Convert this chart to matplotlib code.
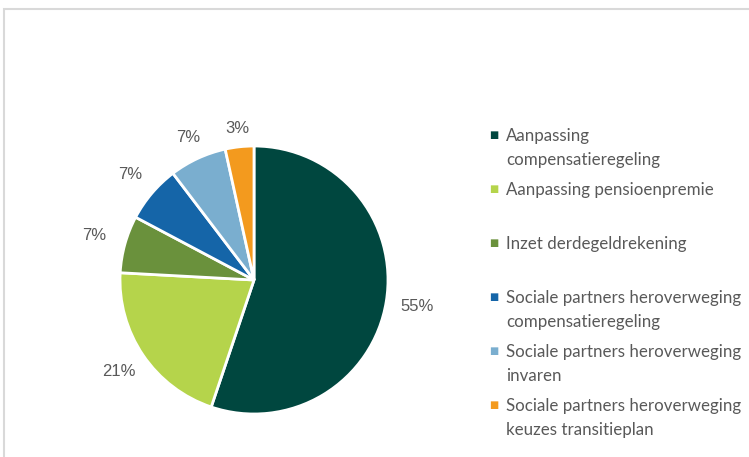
import numpy as np
import matplotlib
matplotlib.use("Agg")
import matplotlib.pyplot as plt
from matplotlib.patches import Rectangle

# antwoorden (aantal), volgorde met de klok mee vanaf 12 uur
categories = [
    "Aanpassing\ncompensatieregeling",
    "Aanpassing pensioenpremie",
    "Inzet derdegeldrekening",
    "Sociale partners heroverweging\ncompensatieregeling",
    "Sociale partners heroverweging\ninvaren",
    "Sociale partners heroverweging\nkeuzes transitieplan",
]
counts = [16, 6, 2, 2, 2, 1]
colors = ["#00473F", "#B5D44B", "#6A913C", "#1565A8", "#7AAECF", "#F39A1E"]

W, H = 749, 457
fig = plt.figure(figsize=(W / 100, H / 100), dpi=100)

# grijze rand van het kader (boven en links)
fig.add_artist(Rectangle((4 / W, -0.1), 1.2, 1 - 9 / H + 0.1, transform=fig.transFigure,
                         fill=False, edgecolor="#D9D9D9", linewidth=1.5))

cx, cy, R = 254, 280, 134
ax = fig.add_axes([(cx - R) / W, (H - cy - R) / H, 2 * R / W, 2 * R / H])
wedges, texts, autotexts = ax.pie(
    counts, colors=colors, startangle=90, counterclock=False,
    autopct=lambda p: f"{p:.0f}%", pctdistance=1.2,
    wedgeprops=dict(edgecolor="white", linewidth=2),
    textprops=dict(color="#595959", fontsize=12, family="Liberation Sans"),
)
ax.set_xlim(-1, 1)
ax.set_ylim(-1, 1)
ax.set_aspect("equal")
ax.axis("off")

# labels buiten de taart, afstand afhankelijk van hoek (zoals Excel)
for w, t in zip(wedges, autotexts):
    a = np.deg2rad((w.theta1 + w.theta2) / 2)
    r = 1.105 + 0.13 * abs(np.cos(a)) + 0.015 * abs(np.sin(a))
    t.set_position((r * np.cos(a), r * np.sin(a)))
    t.set_ha("center")
    t.set_va("center")

# legenda
lx, ly0, step = 494, 135, 54
for i, (lab, col) in enumerate(zip(categories, colors)):
    y = ly0 + i * step
    fig.text(lx / W, 1 - y / H, "\u25A0", color=col, fontsize=7, ha="center", va="center",
             family="DejaVu Sans")
    fig.text((lx + 12) / W, 1 - (y - 7) / H, lab, color="#595959", fontsize=12.2,
             family="Lato", ha="left", va="top", linespacing=1.65)

fig.savefig("out.png", dpi=100)
